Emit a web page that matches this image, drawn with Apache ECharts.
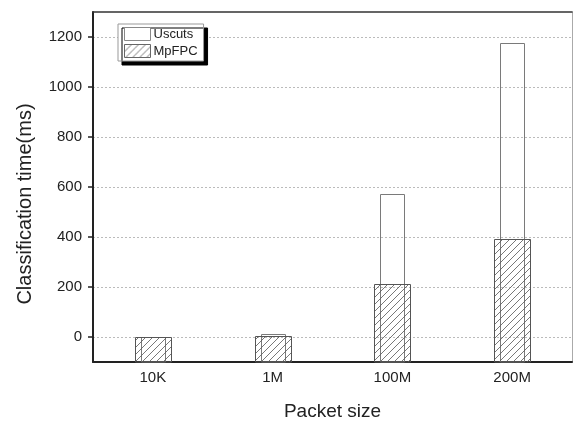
<!DOCTYPE html>
<html>
<head>
<meta charset="utf-8">
<script src="https://cdn.jsdelivr.net/npm/echarts@6/dist/echarts.min.js"></script>
<style>
  html, body { margin: 0; padding: 0; background: #fff; }
  #chart { width: 573px; height: 426px; }
</style>
</head>
<body>
<div id="chart"></div>
<script>
// data
const categories = ['10K', '1M', '100M', '200M'];
const uscuts = [2, 13, 574, 1176];
const mpfpc = [1, 5, 212, 391];
const yTicks = [0, 200, 400, 600, 800, 1000, 1200];
const yMin = -100;
const yMax = 1300;

// diagonal hatch for MpFPC
const hatch = document.createElement('canvas');
hatch.width = 7;
hatch.height = 7;
const hctx = hatch.getContext('2d');
hctx.strokeStyle = '#555';
hctx.lineWidth = 0.8;
hctx.beginPath();
hctx.moveTo(0, 7); hctx.lineTo(7, 0);
hctx.moveTo(-1, 1); hctx.lineTo(1, -1);
hctx.moveTo(6, 8); hctx.lineTo(8, 6);
hctx.stroke();
const hatchFill = { image: hatch, repeat: 'repeat' };

// bars drawn from the axis minimum up to the value
function barItem(frac, fill, stroke) {
  return function (params, api) {
    const top = api.coord([api.value(0), api.value(1)]);
    const base = api.coord([api.value(0), yMin]);
    const w = Math.round(api.size([1, 0])[0] * frac);
    const x = Math.round(top[0] - w / 2) + 0.5;
    const y = Math.round(top[1]) + 0.5;
    return {
      type: 'rect',
      shape: { x: x, y: y, width: w, height: base[1] - y },
      style: { fill: fill, stroke: stroke, lineWidth: 1 }
    };
  };
}

const chart = echarts.init(document.getElementById('chart'));
const option = {
  animation: false,
  backgroundColor: '#fff',
  textStyle: { fontFamily: 'Liberation Sans, Arial, sans-serif' },
  grid: { left: 93, right: 1, top: 12, bottom: 57, containLabel: false },
  legend: {
    orient: 'vertical',
    left: 118,
    top: 24,
    itemWidth: 26,
    itemHeight: 13,
    itemGap: 3,
    padding: [3, 6, 3, 6],
    backgroundColor: '#fff',
    borderColor: '#999',
    borderWidth: 1,
    shadowColor: '#000',
    shadowOffsetX: 4,
    shadowOffsetY: 4,
    shadowBlur: 0,
    textStyle: { fontSize: 13, color: '#222', padding: [0, 0, 0, -2] },
    data: [
      { name: 'Uscuts', icon: 'rect', itemStyle: { color: '#fff', borderColor: '#888', borderWidth: 1 } },
      { name: 'MpFPC', icon: 'rect', itemStyle: { color: hatchFill, borderColor: '#666', borderWidth: 1 } }
    ]
  },
  xAxis: [
    {
      type: 'category',
      data: categories,
      position: 'bottom',
      name: 'Packet size',
      nameLocation: 'middle',
      nameGap: 40,
      nameTextStyle: { fontSize: 19, color: '#222' },
      axisLine: { onZero: false, lineStyle: { color: '#222', width: 2 } },
      axisTick: { alignWithLabel: true, length: 5, lineStyle: { color: '#222', width: 1.5 } },
      axisLabel: { fontSize: 15, color: '#222', margin: 8 },
      splitLine: { show: false }
    },
    {
      type: 'category',
      data: categories,
      position: 'top',
      axisLine: { onZero: false, lineStyle: { color: '#333', width: 1.5 } },
      axisTick: { show: false },
      axisLabel: { show: false },
      splitLine: { show: false }
    }
  ],
  yAxis: [
    {
      type: 'value',
      min: yMin,
      max: yMax,
      name: 'Classification time(ms)',
      nameLocation: 'middle',
      nameGap: 58,
      nameTextStyle: { fontSize: 20, color: '#222', padding: [0, 34, 0, 0] },
      axisLine: { show: true, onZero: false, lineStyle: { color: '#222', width: 2 } },
      axisTick: { show: true, length: 5, customValues: yTicks, lineStyle: { color: '#222', width: 1.5 } },
      axisLabel: { fontSize: 15, color: '#222', margin: 11, customValues: yTicks, formatter: v => String(v) },
      splitLine: { show: true, lineStyle: { color: '#bbb', type: [2, 2], width: 1 } }
    },
    {
      type: 'value',
      min: yMin,
      max: yMax,
      position: 'right',
      axisLine: { show: true, onZero: false, lineStyle: { color: '#aaa', width: 1 } },
      axisTick: { show: false },
      axisLabel: { show: false },
      splitLine: { show: false }
    }
  ],
  series: [
    {
      name: 'Uscuts',
      type: 'custom',
      xAxisIndex: 1,
      yAxisIndex: 0,
      renderItem: barItem(0.2, 'rgba(255,255,255,0)', '#7a7a7a'),
      data: categories.map((c, i) => [i, uscuts[i]]),
      z: 2
    },
    {
      name: 'MpFPC',
      type: 'custom',
      xAxisIndex: 0,
      yAxisIndex: 0,
      renderItem: barItem(0.3, hatchFill, '#555'),
      data: categories.map((c, i) => [i, mpfpc[i]]),
      z: 3
    }
  ]
};
chart.setOption(option);
</script>
</body>
</html>
